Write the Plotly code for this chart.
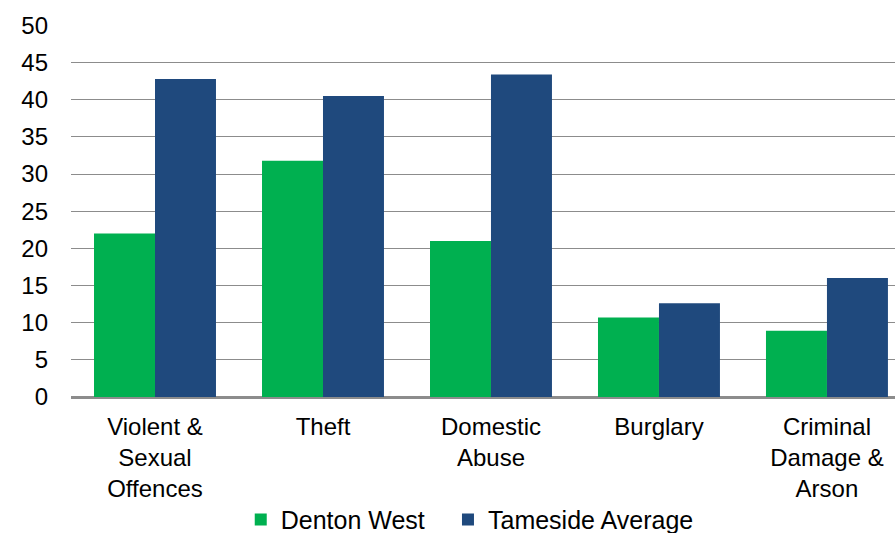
import plotly.graph_objects as go

categories = ["Violent &<br>Sexual<br>Offences", "Theft", "Domestic<br>Abuse", "Burglary", "Criminal<br>Damage &<br>Arson"]
denton_west = [22.0, 31.8, 21.0, 10.7, 8.9]
tameside_avg = [42.8, 40.5, 43.4, 12.6, 16.0]
y_ticks = [0, 5, 10, 15, 20, 25, 30, 35, 40, 45, 50]

x = list(range(len(categories)))
fig = go.Figure()
fig.add_trace(go.Bar(x=x, y=denton_west, name="Denton West", legend="legend",
                     marker=dict(color="#00B050", line=dict(width=0))))
fig.add_trace(go.Bar(x=x, y=tameside_avg, name="Tameside Average", legend="legend2",
                     marker=dict(color="#1F497D", line=dict(width=0))))

leg_common = dict(orientation="h", xanchor="left", y=-0.33, yanchor="middle",
                  font=dict(size=25), itemwidth=30, bgcolor="rgba(0,0,0,0)")

fig.update_layout(
    width=895, height=533,
    margin=dict(l=71, r=0, t=25, b=136, autoexpand=False),
    paper_bgcolor="white", plot_bgcolor="white",
    barmode="group", bargap=0.274, bargroupgap=0,
    font=dict(family="Liberation Sans, Arial, sans-serif", size=24, color="#000000"),
    showlegend=True,
    legend=dict(x=0.206, **leg_common),
    legend2=dict(x=0.4575, **leg_common),
    xaxis=dict(tickmode="array", tickvals=x, ticktext=categories, range=[-0.5, 4.405],
               showgrid=False, showline=True, linecolor="#8C8C8C", linewidth=1.5, ticks="",
               ticklabelstandoff=7, tickfont=dict(size=24)),
    yaxis=dict(range=[0, 50.06], tickvals=y_ticks, showgrid=True, gridcolor="#8C8C8C", gridwidth=1.3,
               zeroline=True, zerolinecolor="#8C8C8C", zerolinewidth=1.5, showline=False,
               ticks="", ticklabelstandoff=22, tickfont=dict(size=24)),
)
fig.write_html("out.html", config={"displayModeBar": False},
               post_script="document.body.style.margin='0';document.body.style.overflow='hidden';")
